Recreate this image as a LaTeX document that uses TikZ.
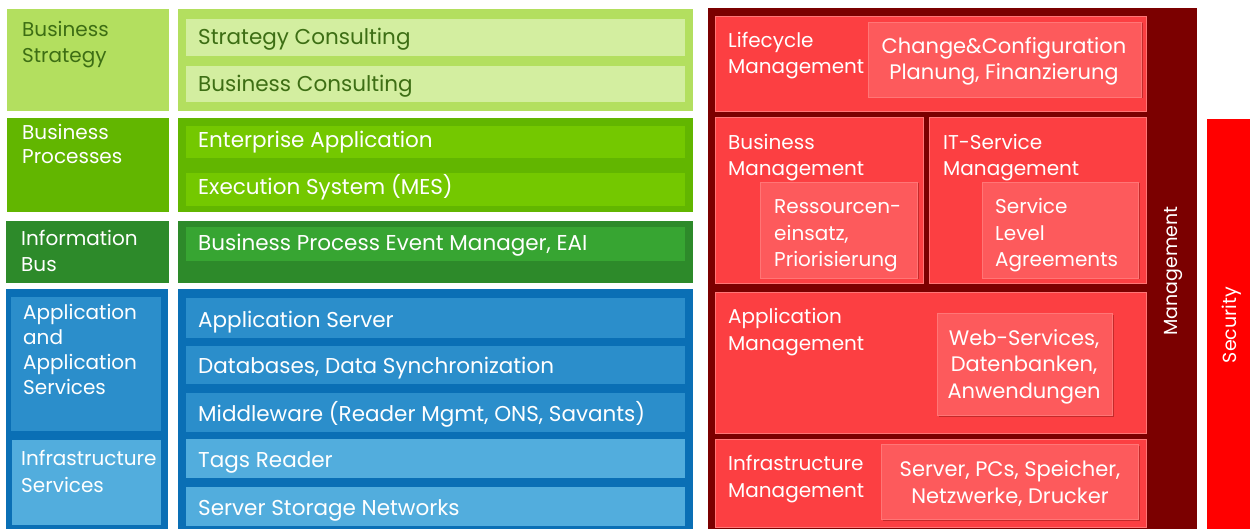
\documentclass[tikz,border=0pt]{standalone}
\usepackage{fontspec}
\setmainfont{Poppins}
\usetikzlibrary{fit,shadows}
\definecolor{bsL}{HTML}{B3DF5F}
\definecolor{bsI}{HTML}{D3EEA0}
\definecolor{bsT}{HTML}{3D6E14}
\definecolor{bpL}{HTML}{62B600}
\definecolor{bpI}{HTML}{74C800}
\definecolor{ibL}{HTML}{2D8A2A}
\definecolor{ibI}{HTML}{37A532}
\definecolor{blD}{HTML}{0A6FB5}
\definecolor{blM}{HTML}{2B8ECB}
\definecolor{blL}{HTML}{52ADDD}
\definecolor{rD}{HTML}{7B0000}
\definecolor{rM}{HTML}{FC3F42}
\definecolor{rI}{HTML}{FD5A5C}
\definecolor{rB}{HTML}{FF7676}
\definecolor{rS}{HTML}{C42A2A}
\definecolor{sec}{HTML}{FF0000}
\newcommand\fs{\fontsize{20}{26.5}\selectfont}
\newcommand\fst{\fontsize{21.5}{26.5}\selectfont}
\newcommand\fsi{\fontsize{21}{26.5}\selectfont}
\begin{document}
\begin{tikzpicture}[x=1pt,y=-1pt,
  box/.style={inner sep=0pt, outer sep=0pt, draw=none},
  redbox/.style={box, fill=rM, draw=rB, line width=0.7pt,
     drop shadow={shadow xshift=1.2pt, shadow yshift=-1.2pt, fill=rS, opacity=1}},
  redin/.style={box, fill=rI, draw=rB, line width=0.9pt,
     drop shadow={shadow xshift=1.5pt, shadow yshift=-1.5pt, fill=rS, opacity=1}},
  txt/.style={inner sep=0pt, font=\fs, text=white, align=left, anchor=base west},
  strip/.style={txt, font=\fst},
  txti/.style={txt, font=\fsi},
  txtc/.style={inner sep=0pt, font=\fsi, text=white, align=center, anchor=base},
  rot/.style={inner sep=0pt, font=\fontsize{19}{23}\selectfont, text=white, rotate=90, anchor=center}]
\useasboundingbox (0,0) rectangle (1250,529);
% ---------- Business Strategy
\node[box, fill=bsL, fit={(7,9)(169,111)}] (bsLab) {};
\node[box, fill=bsL, fit={(178,9)(693,111)}] (bsOut) {};
\node[box, fill=bsI, fit={(186,19)(685,56)}] (bs1) {};
\node[box, fill=bsI, fit={(186,66)(685,102)}] (bs2) {};
\node[txt, text=bsT] (tBS) at (22,63) {Business\\Strategy};
\node[strip, text=bsT] (tbs1) at (198,45) {Strategy Consulting};
\node[strip, text=bsT] (tbs2) at (198,92) {Business Consulting};
% ---------- Business Processes
\node[box, fill=bpL, fit={(7,118)(169,212)}] (bpLab) {};
\node[box, fill=bpL, fit={(178,118)(693,212)}] (bpOut) {};
\node[box, fill=bpI, fit={(186,126)(685,158)}] (bp1) {};
\node[box, fill=bpI, fit={(186,173)(685,206)}] (bp2) {};
\node[txt, font=\fontsize{20}{24}\selectfont] (tBP) at (22,164) {Business\\Processes};
\node[strip] (tbp1) at (198,148) {Enterprise Application};
\node[strip] (tbp2) at (198,195) {Execution System (MES)};
% ---------- Information Bus
\node[box, fill=ibL, fit={(6,221)(169,283)}] (ibLab) {};
\node[box, fill=ibL, fit={(178,221)(693,283)}] (ibOut) {};
\node[box, fill=ibI, fit={(186,227)(685,261)}] (ib1) {};
\node[txt] (tIB) at (21,272) {Information\\Bus};
\node[strip] (tib1) at (198,251) {Business Process Event Manager, EAI};
% ---------- Application / Infrastructure
\node[box, fill=blD, fit={(6,289)(168,529)}] (blLab) {};
\node[box, fill=blM, fit={(11,297)(161,431)}] (aas) {};
\node[box, fill=blL, fit={(12,440)(161,525)}] (infs) {};
\node[box, fill=blD, fit={(178,289)(693,529)}] (blOut) {};
\node[box, fill=blM, fit={(186,298)(685,338)}] (bl1) {};
\node[box, fill=blM, fit={(186,346)(685,384)}] (bl2) {};
\node[box, fill=blM, fit={(186,393)(685,432)}] (bl3) {};
\node[box, fill=blL, fit={(186,439)(685,478)}] (bl4) {};
\node[box, fill=blL, fit={(186,487)(685,526)}] (bl5) {};
\node[txt, font=\fontsize{20}{25}\selectfont] (tAAS) at (23,394) {Application\\and\\Application\\Services};
\node[txt] (tIS) at (21,492) {Infrastructure\\Services};
\node[strip] (tbl1) at (198,327) {Application Server};
\node[strip] (tbl2) at (198,373) {Databases, Data Synchronization};
\node[strip] (tbl3) at (198,421) {Middleware (Reader Mgmt, ONS, Savants)};
\node[strip] (tbl4) at (198,467) {Tags Reader};
\node[strip] (tbl5) at (198,515) {Server Storage Networks};
% ---------- Management
\node[box, fill=rD, fit={(708,8)(1197,529)}] (mgmt) {};
\node[redbox, fit={(715,16)(1146,111)}] (lcm) {};
\node[redin, fit={(868,22)(1141,97)}] (lcmI) {};
\node[redbox, fit={(715,117)(923,283)}] (bm) {};
\node[redin, fit={(760,182)(917,278)}] (bmI) {};
\node[redbox, fit={(929,117)(1146,283)}] (itsm) {};
\node[redin, fit={(982,182)(1138,278)}] (itsmI) {};
\node[redbox, fit={(715,292)(1146,433)}] (am) {};
\node[redin, fit={(937,313)(1112,415)}] (amI) {};
\node[redbox, fit={(715,439)(1146,527)}] (im) {};
\node[redin, fit={(881,444)(1138,519)}] (imI) {};
\node[box, fill=sec, fit={(1207,119)(1250,529)}] (secb) {};
\node[txt] (tLCM) at (728,74) {Lifecycle\\Management};
\node[txtc] (tLCMI) at (1004,80) {Change\&Configuration\\Planung, Finanzierung};
\node[txt] (tBM) at (728,176) {Business\\Management};
\node[txt] (tBMI) at (774,267) {Ressourcen-\\einsatz,\\Priorisierung};
\node[txt] (tITSM) at (943,176) {IT-Service\\Management};
\node[txt] (tITSMI) at (995,267) {Service\\Level\\Agreements};
\node[txt] (tAM) at (728,350) {Application\\Management};
\node[txtc] (tAMI) at (1024,398) {Web-Services,\\Datenbanken,\\Anwendungen};
\node[txt] (tIM) at (728,497) {Infrastructure\\Management};
\node[txtc] (tIMI) at (1010,503) {Server, PCs, Speicher,\\Netzwerke, Drucker};
\node[rot] (tMG) at (1173,271) {Management};
\node[rot] (tSEC) at (1232,325) {Security};
\end{tikzpicture}
\end{document}
